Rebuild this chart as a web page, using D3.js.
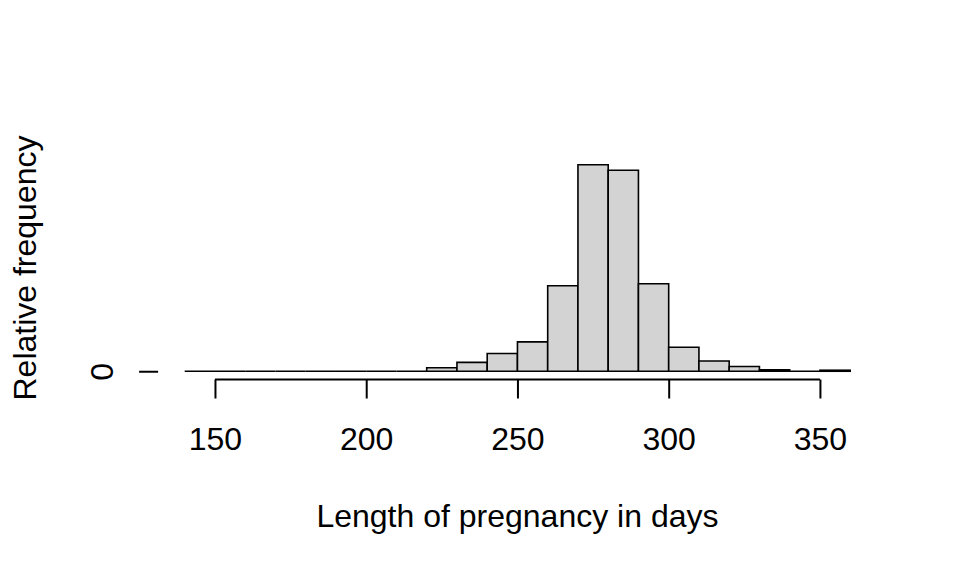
<!DOCTYPE html>
<html>
<head>
<meta charset="utf-8">
<script src="https://cdn.jsdelivr.net/npm/d3@7"></script>
<style>
  body { margin: 0; background: #fff; }
  text { font-family: "Liberation Sans", Arial, sans-serif; }
</style>
</head>
<body>
<div id="chart"></div>
<script>
// bin edges (days) and relative frequency per 10-day bin
var binStarts = [140, 150, 160, 170, 180, 190, 200, 210, 220, 230, 240, 250,
                 260, 270, 280, 290, 300, 310, 320, 330, 340, 350];
var relFreq = [0, 0, 0, 0, 0, 0, 0, 0, 0.005, 0.013, 0.026, 0.043,
               0.125, 0.302, 0.294, 0.128, 0.035, 0.015, 0.007, 0.002, 0, 0.0015];
var binWidth = 10;
var xTicks = [150, 200, 250, 300, 350];
var yTicks = [0];

var svgWidth = 960, svgHeight = 576;
var margin = { top: 156.5, right: 83.2, bottom: 196.5, left: 158.1 };
var width = svgWidth - margin.left - margin.right;
var height = svgHeight - margin.top - margin.bottom;
var fontSize = 32;

var svg = d3.select("#chart")
    .append("svg")
    .attr("width", svgWidth)
    .attr("height", svgHeight);

var chartGroup = svg.append("g")
    .attr("transform", `translate(${margin.left}, ${margin.top})`);

// R style: 4% padding on each side
var xmin = binStarts[0], xmax = binStarts[binStarts.length - 1] + binWidth;
var xpad = (xmax - xmin) * 0.04;
var ymax = d3.max(relFreq);
var ypad = ymax * 0.04;

var x = d3.scaleLinear().domain([xmin - xpad, xmax + xpad]).range([0, width]);
var y = d3.scaleLinear().domain([0 - ypad, ymax + ypad]).range([height, 0]);

// bars as paths so empty bins still show their outline
chartGroup.selectAll("path.bar")
    .data(binStarts)
    .enter()
    .append("path")
    .attr("class", "bar")
    .attr("d", function(d, i) {
        var x0 = x(d), x1 = x(d + binWidth);
        var y0 = y(0), y1 = y(relFreq[i]);
        return `M${x0},${y0}V${y1}H${x1}V${y0}Z`;
    })
    .attr("fill", "#d3d3d3")
    .attr("stroke", "#000")
    .attr("stroke-width", 1.6);

// x axis, R style (line spans first to last tick)
var bottomAxis = d3.axisBottom(x)
    .tickValues(xTicks)
    .tickSize(19)
    .tickSizeOuter(0);
var xg = chartGroup.append("g")
    .attr("transform", `translate(0, ${height})`)
    .call(bottomAxis);
xg.select(".domain")
    .attr("d", `M${x(xTicks[0])},0H${x(xTicks[xTicks.length - 1])}`)
    .attr("stroke-width", 2);
xg.selectAll(".tick line").attr("stroke-width", 2);
xg.selectAll(".tick text")
    .attr("font-size", fontSize)
    .attr("font-family", "Liberation Sans, Arial, sans-serif")
    .attr("fill", "#000")
    .attr("y", 70.5)
    .attr("dy", null);

// y axis with a single tick at 0
var leftAxis = d3.axisLeft(y)
    .tickValues(yTicks)
    .tickFormat(d3.format("d"))
    .tickSize(19)
    .tickSizeOuter(0);
var yg = chartGroup.append("g").call(leftAxis);
yg.select(".domain").remove();
yg.selectAll(".tick line").attr("stroke-width", 2);
yg.selectAll(".tick text")
    .attr("font-size", fontSize)
    .attr("font-family", "Liberation Sans, Arial, sans-serif")
    .attr("fill", "#000")
    .attr("text-anchor", "middle")
    .attr("dy", null)
    .attr("x", 0)
    .attr("y", 0)
    .attr("transform", `translate(${113 - margin.left}, 0) rotate(-90)`);

// axis titles
svg.append("text")
    .attr("x", margin.left + x(250))
    .attr("y", 527)
    .attr("text-anchor", "middle")
    .attr("font-size", fontSize)
    .text("Length of pregnancy in days");

svg.append("text")
    .attr("transform", `translate(36, ${margin.top + height / 2}) rotate(-90)`)
    .attr("text-anchor", "middle")
    .attr("font-size", fontSize)
    .text("Relative frequency");
</script>
</body>
</html>
